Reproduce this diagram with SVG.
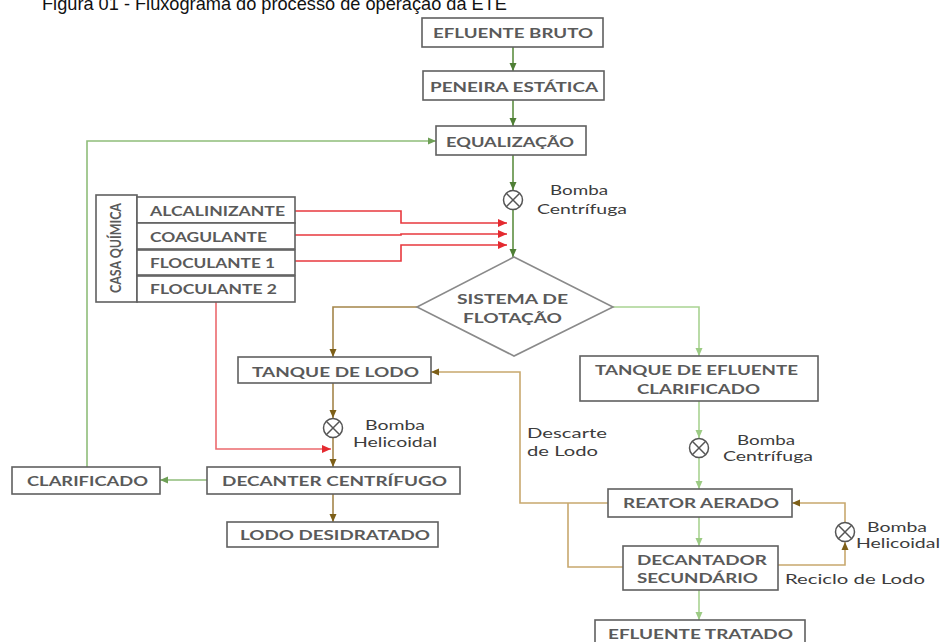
<svg xmlns="http://www.w3.org/2000/svg" width="940" height="642" viewBox="0 0 940 642">
<style>
  .box{fill:#fff;stroke:#606060;stroke-width:1.6}
  .dia{fill:#fff;stroke:#8a8a8a;stroke-width:1.6}
  .lbl{font-family:Lato,"Open Sans","Liberation Sans",sans-serif;font-weight:700;font-size:14px;fill:#5a5a5a}
  .note{font-family:Lato,"Open Sans","Liberation Sans",sans-serif;font-weight:400;font-size:14px;fill:#3c3c3c}
  .title{font-family:"Liberation Sans",Arial,sans-serif;font-size:19px;fill:#111}
  .pump circle{fill:#fff;stroke:#555;stroke-width:1.5}
  .pump line{stroke:#555;stroke-width:1.5}
  .g{fill:none;stroke:#5e8f42;stroke-width:1.6}
  .gf{fill:none;stroke:#8fbd7a;stroke-width:1.6}
  .lg{fill:none;stroke:#a9d392;stroke-width:1.6}
  .br{fill:none;stroke:#a4854a;stroke-width:1.6}
  .tan{fill:none;stroke:#c8a86e;stroke-width:1.6}
  .rd{fill:none;stroke:#e8383e;stroke-width:1.6}
  .rdl{fill:none;stroke:#ec6a6e;stroke-width:1.6}
</style>
<defs>
  <marker id="ag" viewBox="0 0 8 8" refX="8" refY="4" markerWidth="8" markerHeight="8" markerUnits="userSpaceOnUse" orient="auto"><path d="M0,0.5 L8,4 L0,7.5 Z" fill="#4f7f35"/></marker>
  <marker id="agf" viewBox="0 0 8 8" refX="8" refY="4" markerWidth="8" markerHeight="8" markerUnits="userSpaceOnUse" orient="auto"><path d="M0,0.5 L8,4 L0,7.5 Z" fill="#6e9f56"/></marker>
  <marker id="alg" viewBox="0 0 8 8" refX="8" refY="4" markerWidth="8" markerHeight="8" markerUnits="userSpaceOnUse" orient="auto"><path d="M0,0.5 L8,4 L0,7.5 Z" fill="#9ccb84"/></marker>
  <marker id="abr" viewBox="0 0 8 8" refX="8" refY="4" markerWidth="8" markerHeight="8" markerUnits="userSpaceOnUse" orient="auto"><path d="M0,0.5 L8,4 L0,7.5 Z" fill="#7d5f18"/></marker>
  <marker id="ard" viewBox="0 0 8 8" refX="8" refY="4" markerWidth="9" markerHeight="9" markerUnits="userSpaceOnUse" orient="auto"><path d="M0,0.5 L8,4 L0,7.5 Z" fill="#e42a30"/></marker>
</defs>

<text class="title" x="42" y="10" textLength="465" lengthAdjust="spacingAndGlyphs">Figura 01 - Fluxograma do processo de operação da ETE</text>

<g id="connectors">
  <path class="g" d="M513,47 V71" marker-end="url(#ag)"/>
  <path class="g" d="M513,100 V126" marker-end="url(#ag)"/>
  <path class="g" d="M513,155 V190" marker-end="url(#ag)"/>
  <path class="g" d="M513,209 V257" marker-end="url(#ag)"/>
  <path class="gf" d="M87,467 V141 H436" marker-end="url(#agf)"/>
  <path class="gf" d="M207,480 H160" marker-end="url(#agf)"/>
  <path class="rd" d="M295,211 H401 V223 H507" marker-end="url(#ard)"/>
  <path class="rd" d="M295,235 H401 V234 H507" marker-end="url(#ard)"/>
  <path class="rd" d="M295,261 H401 V245 H507" marker-end="url(#ard)"/>
  <path class="rdl" d="M216,302 V449 H331" marker-end="url(#ard)"/>
  <path class="lg" d="M613,307 H699 V356" marker-end="url(#alg)"/>
  <path class="lg" d="M699,401 V438" marker-end="url(#alg)"/>
  <path class="lg" d="M699,458 V489" marker-end="url(#alg)"/>
  <path class="lg" d="M699,517 V546" marker-end="url(#alg)"/>
  <path class="lg" d="M699,590 V620" marker-end="url(#alg)"/>
  <path class="br" d="M417,307 H333 V357" marker-end="url(#abr)"/>
  <path class="br" d="M333,383 V418" marker-end="url(#abr)"/>
  <path class="br" d="M333,438 V467" marker-end="url(#abr)"/>
  <path class="br" d="M333,494 V522" marker-end="url(#abr)"/>
  <path class="tan" d="M608,503 H520 V372 H431" marker-end="url(#abr)"/>
  <path class="tan" d="M568,503 V567 H623"/>
  <path class="tan" d="M778,565 H845 V542" marker-end="url(#abr)"/>
  <path class="tan" d="M845,522 V503 H792" marker-end="url(#abr)"/>
</g>

<g id="efluente-bruto">
  <rect class="box" x="422" y="18" width="181" height="29"/>
  <text class="lbl" x="433" y="38" textLength="160" lengthAdjust="spacingAndGlyphs">EFLUENTE BRUTO</text>
</g>
<g id="peneira">
  <rect class="box" x="423" y="71" width="181" height="29"/>
  <text class="lbl" x="430" y="92" textLength="168" lengthAdjust="spacingAndGlyphs">PENEIRA ESTÁTICA</text>
</g>
<g id="equalizacao">
  <rect class="box" x="436" y="126" width="150" height="29"/>
  <text class="lbl" x="446" y="147" textLength="128" lengthAdjust="spacingAndGlyphs">EQUALIZAÇÃO</text>
</g>

<g id="casa-quimica">
  <rect class="box" x="96" y="195" width="41" height="107"/>
  <text class="lbl" style="font-size:15px" transform="translate(121,248) rotate(-90)" x="-45" y="0" textLength="90" lengthAdjust="spacingAndGlyphs">CASA QUÍMICA</text>
</g>
<g id="alcalinizante">
  <rect class="box" x="137" y="197" width="158" height="26"/>
  <text class="lbl" x="150" y="216" textLength="135" lengthAdjust="spacingAndGlyphs">ALCALINIZANTE</text>
</g>
<g id="coagulante">
  <rect class="box" x="137" y="223" width="158" height="26"/>
  <text class="lbl" x="150" y="242" textLength="117" lengthAdjust="spacingAndGlyphs">COAGULANTE</text>
</g>
<g id="floculante1">
  <rect class="box" x="137" y="250" width="158" height="25"/>
  <text class="lbl" x="150" y="268" textLength="125" lengthAdjust="spacingAndGlyphs">FLOCULANTE 1</text>
</g>
<g id="floculante2">
  <rect class="box" x="137" y="276" width="158" height="26"/>
  <text class="lbl" x="150" y="294" textLength="127" lengthAdjust="spacingAndGlyphs">FLOCULANTE 2</text>
</g>

<g id="bomba-centrifuga-1">
  <g class="pump"><circle cx="513" cy="200" r="9.5"/><line x1="506.3" y1="193.3" x2="519.7" y2="206.7"/><line x1="506.3" y1="206.7" x2="519.7" y2="193.3"/></g>
  <text class="note" x="550" y="195" textLength="58" lengthAdjust="spacingAndGlyphs">Bomba</text>
  <text class="note" x="537" y="214" textLength="90" lengthAdjust="spacingAndGlyphs">Centrífuga</text>
</g>

<g id="sistema-flotacao">
  <polygon class="dia" points="514,257 613,307 514,356 417,307"/>
  <text class="lbl" x="457" y="304" textLength="111" lengthAdjust="spacingAndGlyphs">SISTEMA DE</text>
  <text class="lbl" x="463" y="323" textLength="99" lengthAdjust="spacingAndGlyphs">FLOTAÇÃO</text>
</g>

<g id="tanque-lodo">
  <rect class="box" x="238" y="357" width="193" height="26"/>
  <text class="lbl" x="252" y="377" textLength="167" lengthAdjust="spacingAndGlyphs">TANQUE DE LODO</text>
</g>

<g id="tanque-efluente">
  <rect class="box" x="580" y="356" width="238" height="45"/>
  <text class="lbl" x="595" y="375" textLength="203" lengthAdjust="spacingAndGlyphs">TANQUE DE EFLUENTE</text>
  <text class="lbl" x="637" y="394" textLength="123" lengthAdjust="spacingAndGlyphs">CLARIFICADO</text>
</g>

<g id="bomba-helicoidal-1">
  <g class="pump"><circle cx="333" cy="428" r="9.5"/><line x1="326.3" y1="421.3" x2="339.7" y2="434.7"/><line x1="326.3" y1="434.7" x2="339.7" y2="421.3"/></g>
  <text class="note" x="365" y="430" textLength="60" lengthAdjust="spacingAndGlyphs">Bomba</text>
  <text class="note" x="353" y="447" textLength="84" lengthAdjust="spacingAndGlyphs">Helicoidal</text>
</g>

<g id="descarte-label">
  <text class="note" x="527" y="438" textLength="80" lengthAdjust="spacingAndGlyphs">Descarte</text>
  <text class="note" x="527" y="456" textLength="71" lengthAdjust="spacingAndGlyphs">de Lodo</text>
</g>

<g id="bomba-centrifuga-2">
  <g class="pump"><circle cx="699" cy="448" r="9.5"/><line x1="692.3" y1="441.3" x2="705.7" y2="454.7"/><line x1="692.3" y1="454.7" x2="705.7" y2="441.3"/></g>
  <text class="note" x="737" y="445" textLength="58" lengthAdjust="spacingAndGlyphs">Bomba</text>
  <text class="note" x="723" y="461" textLength="90" lengthAdjust="spacingAndGlyphs">Centrífuga</text>
</g>

<g id="clarificado">
  <rect class="box" x="12" y="467" width="148" height="27"/>
  <text class="lbl" x="27" y="486" textLength="121" lengthAdjust="spacingAndGlyphs">CLARIFICADO</text>
</g>
<g id="decanter">
  <rect class="box" x="207" y="467" width="253" height="27"/>
  <text class="lbl" x="222" y="486" textLength="225" lengthAdjust="spacingAndGlyphs">DECANTER CENTRÍFUGO</text>
</g>
<g id="lodo-desidratado">
  <rect class="box" x="227" y="522" width="211" height="25"/>
  <text class="lbl" x="240" y="540" textLength="190" lengthAdjust="spacingAndGlyphs">LODO DESIDRATADO</text>
</g>

<g id="reator-aerado">
  <rect class="box" x="608" y="489" width="184" height="28"/>
  <text class="lbl" x="623" y="508" textLength="156" lengthAdjust="spacingAndGlyphs">REATOR AERADO</text>
</g>

<g id="bomba-helicoidal-2">
  <g class="pump"><circle cx="845" cy="532" r="9.5"/><line x1="838.3" y1="525.3" x2="851.7" y2="538.7"/><line x1="838.3" y1="538.7" x2="851.7" y2="525.3"/></g>
  <text class="note" x="867" y="532" textLength="60" lengthAdjust="spacingAndGlyphs">Bomba</text>
  <text class="note" x="856" y="548" textLength="84" lengthAdjust="spacingAndGlyphs">Helicoidal</text>
</g>

<g id="decantador-secundario">
  <rect class="box" x="623" y="546" width="155" height="44"/>
  <text class="lbl" x="637" y="565" textLength="130" lengthAdjust="spacingAndGlyphs">DECANTADOR</text>
  <text class="lbl" x="637" y="583" textLength="121" lengthAdjust="spacingAndGlyphs">SECUNDÁRIO</text>
</g>
<g id="reciclo-label">
  <text class="note" x="785" y="584" textLength="140" lengthAdjust="spacingAndGlyphs">Reciclo de Lodo</text>
</g>

<g id="efluente-tratado">
  <rect class="box" x="595" y="620" width="210" height="28"/>
  <text class="lbl" x="608" y="639" textLength="185" lengthAdjust="spacingAndGlyphs">EFLUENTE TRATADO</text>
</g>
</svg>
